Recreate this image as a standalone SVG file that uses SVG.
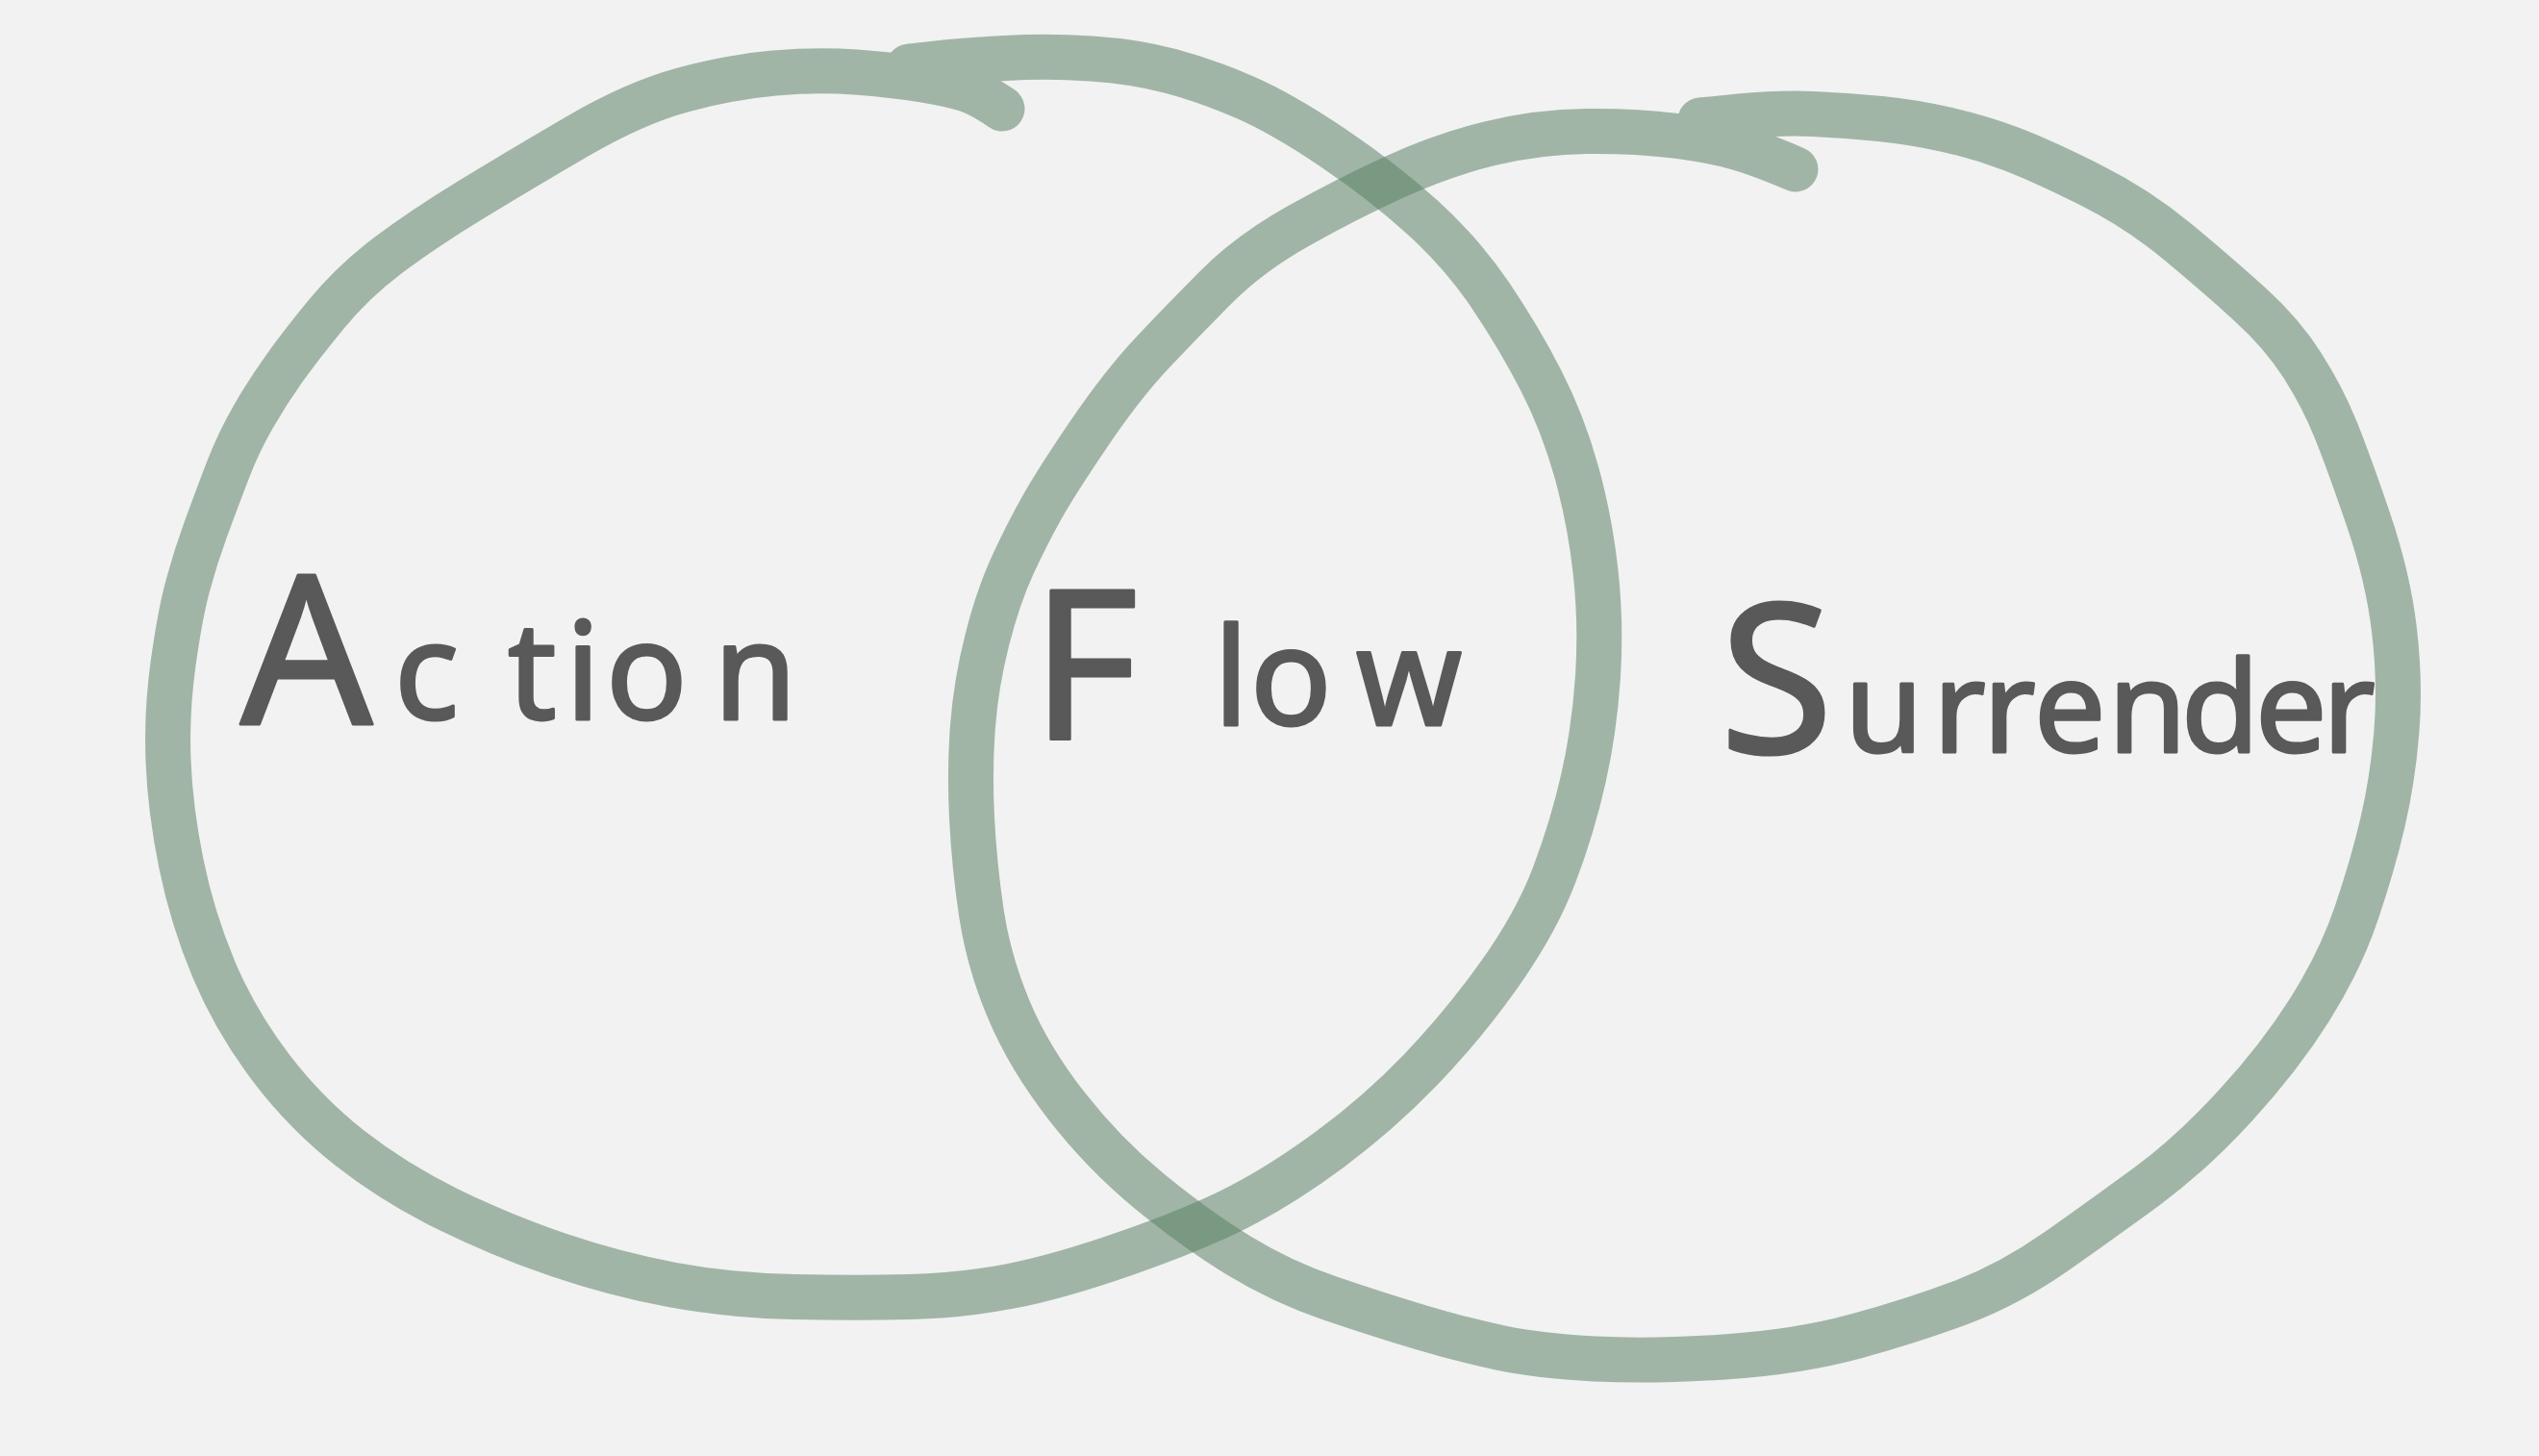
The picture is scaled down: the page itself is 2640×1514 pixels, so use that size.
<svg xmlns="http://www.w3.org/2000/svg" width="2640" height="1514" viewBox="0 0 2640 1514">
<style>
.ring{fill:none;stroke:#5a8265;stroke-width:47;stroke-linecap:round;stroke-linejoin:round}
.ringgrp{opacity:0.54}
.lbl{font-family:"Noto Sans","Liberation Sans",sans-serif;font-size:140px;fill:#595959;stroke:#595959;stroke-width:3;stroke-linejoin:round}
.cap{font-size:215px}
.sm{font-size:132px}
</style>
<rect x="0" y="0" width="2640" height="1514" fill="#f2f2f2"/>
<g id="circle-action" class="ringgrp">
<path class="ring" d="M945,69 L972.5,66 Q1000,63 1045,60.5 Q1090,58 1135,61 Q1180,64 1217.5,74 Q1255,84 1294,101 Q1333,118 1385,153 Q1437,188 1478.5,225.5 Q1520,263 1550,307.5 Q1580,352 1602.5,396 Q1625,440 1639,490 Q1653,540 1659,594 Q1665,648 1661.5,703 Q1658,758 1646.5,809 Q1635,860 1616,910 Q1597,960 1558.5,1014 Q1520,1068 1476.5,1113 Q1433,1158 1383,1195 Q1333,1232 1288,1255 Q1243,1278 1171.5,1303 Q1100,1328 1050,1337.5 Q1000,1347 946,1348.5 Q892,1350 825,1348.5 Q758,1347 699,1336 Q640,1325 581,1305 Q522,1285 466,1257.5 Q410,1230 364,1194 Q318,1158 281.5,1110 Q245,1062 222.5,1008.5 Q200,955 188.5,898.5 Q177,842 175,791.5 Q173,741 180,690.5 Q187,640 195,610 Q203,580 214,550 Q225,520 236.5,490 Q248,460 263,434 Q278,408 295,384 Q312,360 339.5,326.5 Q367,293 403.5,265.5 Q440,238 490,207.5 Q540,177 600,142 Q660,107 710,93.5 Q760,80 805,76 Q850,72 890,75 Q930,78 960,83 Q990,88 1005,93 Q1020,98 1042,113"/>
</g>
<g id="circle-surrender" class="ringgrp">
<path class="ring" d="M1768,125 L1809,121 Q1850,117 1885,118.5 Q1920,120 1955,123.5 Q1990,127 2025,135 Q2060,143 2091.5,155 Q2123,167 2173,192 Q2223,217 2265,252 Q2307,287 2340,317 Q2373,347 2394,380 Q2415,413 2428.5,446.5 Q2442,480 2462.5,540 Q2483,600 2489.5,655 Q2496,710 2492,760 Q2488,810 2477.5,855 Q2467,900 2450,950 Q2433,1000 2401.5,1050 Q2370,1100 2324,1150 Q2278,1200 2232.5,1233.5 Q2187,1267 2138.5,1301 Q2090,1335 2040,1354 Q1990,1373 1929.5,1389.5 Q1869,1406 1793,1411 Q1717,1416 1658.5,1413 Q1600,1410 1560,1401.5 Q1520,1393 1476.5,1380 Q1433,1367 1383,1350 Q1333,1333 1288,1305.5 Q1243,1278 1195.5,1239 Q1148,1200 1109,1150 Q1070,1100 1049,1050 Q1028,1000 1020.5,950 Q1013,900 1010.5,850 Q1008,800 1011.5,755 Q1015,710 1026.5,665 Q1038,620 1053,587.5 Q1068,555 1083.5,527.5 Q1099,500 1133,450 Q1167,400 1198.5,366.5 Q1230,333 1265,298 Q1300,263 1350,235 Q1400,207 1450,184 Q1500,161 1550,149 Q1600,137 1650,136.5 Q1700,136 1740,141 Q1780,146 1805,153 Q1830,160 1867,176"/>
</g>
<g id="connectors"></g>
<g id="label-action"><text class="lbl" y="750"><tspan class="cap" x="250" y="753">A</tspan><tspan x="410" y="748">c</tspan><tspan x="528">t</tspan><tspan x="588">i</tspan><tspan x="630">o</tspan><tspan x="742">n</tspan></text></g>
<g id="label-flow"><text class="lbl" y="754"><tspan class="cap" x="1072" y="768">F</tspan><tspan x="1262" y="754">l</tspan><tspan x="1300">o</tspan><tspan x="1410">w</tspan></text></g>
<g id="label-surrender"><text class="lbl" y="782"><tspan class="cap" x="1788" y="783">S</tspan><tspan class="sm" x="1918" y="782">u</tspan><tspan class="sm" x="2010">r</tspan><tspan class="sm" x="2062">r</tspan><tspan class="sm" x="2115">e</tspan><tspan class="sm" x="2192">n</tspan><tspan class="sm" x="2268">d</tspan><tspan class="sm" x="2345">e</tspan><tspan class="sm" x="2415">r</tspan></text></g>
</svg>
